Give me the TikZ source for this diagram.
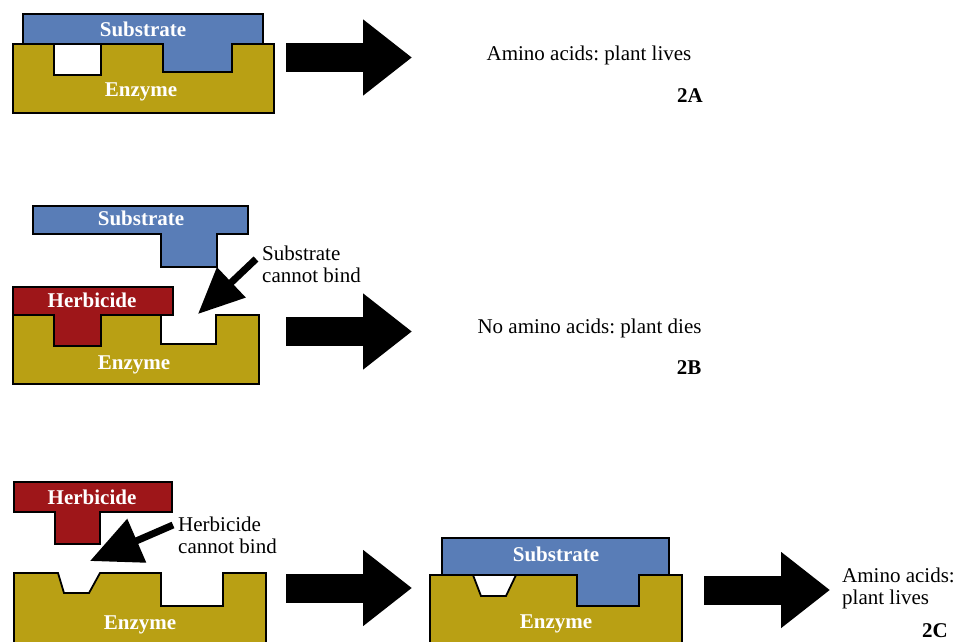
\documentclass[tikz,border=0pt]{standalone}
\usepackage{fontspec}
\setmainfont{Liberation Serif}
\usetikzlibrary{arrows.meta}
\definecolor{subblue}{RGB}{89,125,183}
\definecolor{enzgold}{RGB}{185,160,20}
\definecolor{herbred}{RGB}{158,22,25}
\frenchspacing
\begin{document}
\begin{tikzpicture}[x=1pt,y=-1pt,
 part/.style={draw=black,line width=1.8pt,line join=miter},
 enz/.style={part,fill=enzgold},
 sub/.style={part,fill=subblue},
 herb/.style={part,fill=herbred},
 lbl/.style={text=white,font=\fontsize{21}{22}\selectfont\bfseries,inner sep=0pt},
 txt/.style={font=\fontsize{21}{22}\selectfont,inner sep=0pt,align=left},
 tag/.style={font=\fontsize{21}{22}\selectfont\bfseries,inner sep=0pt},
 bigarrow/.style={line width=29pt,-{Triangle[length=49pt,width=73pt]}},
 smallarrowB/.style={line width=7pt,-{Triangle[length=46pt,width=40pt]}},
 smallarrowC/.style={line width=7pt,-{Triangle[length=51pt,width=46pt]}},
]
\useasboundingbox (0,0) rectangle (959,642);
\clip (0,0) rectangle (959,642);

% ---------- Panel 2A ----------
\draw[enz] (13,44) -- (54,44) -- (54,75) -- (101,75) -- (101,44) -- (163,44) -- (163,72)
  -- (232,72) -- (232,44) -- (274,44) -- (274,113) -- (13,113) -- cycle;
\draw[sub] (23,14) -- (263,14) -- (263,44) -- (232,44) -- (232,72) -- (163,72) -- (163,44)
  -- (23,44) -- cycle;
\node[lbl] (subA) at (143,29) {Substrate};
\node[lbl] (enzA) at (141,92) {Enzyme};
\coordinate (arAs) at (286,57.5);
\coordinate (arAe) at (412,57.5);
\draw[bigarrow] (arAs) -- (arAe);
\node[txt] (resA) at (589,55) {Amino acids: plant lives};
\node[tag] (tagA) at (690,96) {2A};

% ---------- Panel 2B ----------
\draw[sub] (33,206) -- (248,206) -- (248,234) -- (217,234) -- (217,267) -- (161,267)
  -- (161,234) -- (33,234) -- cycle;
\draw[enz] (13,315) -- (54,315) -- (54,346) -- (101,346) -- (101,315) -- (161,315)
  -- (161,344) -- (216,344) -- (216,315) -- (259,315) -- (259,384) -- (13,384) -- cycle;
\draw[herb] (13,287) -- (173,287) -- (173,315) -- (101,315) -- (101,346) -- (54,346)
  -- (54,315) -- (13,315) -- cycle;
\node[lbl] (subB) at (141,218) {Substrate};
\node[lbl] (herbB) at (92,300) {Herbicide};
\node[lbl] (enzB) at (134,365) {Enzyme};
\node[txt,anchor=west] (cantB) at (262,264) {Substrate\\cannot bind};
\coordinate (tailB) at (256,259);
\coordinate (tipB) at (198,314);
\draw[smallarrowB] (tailB) -- (tipB);
\coordinate (arBs) at (286,331.5);
\coordinate (arBe) at (412,331.5);
\draw[bigarrow] (arBs) -- (arBe);
\node[txt] (resB) at (589.5,328) {No amino acids: plant dies};
\node[tag] (tagB) at (689,368) {2B};

% ---------- Panel 2C (left) ----------
\draw[herb] (14,482) -- (172,482) -- (172,512) -- (100,512) -- (100,544) -- (55,544)
  -- (55,512) -- (14,512) -- cycle;
\node[lbl] (herbC) at (92,497) {Herbicide};
\draw[enz] (14,573) -- (58,573) -- (64,593) -- (89,593) -- (100,573) -- (161,573)
  -- (161,606) -- (223,606) -- (223,573) -- (266,573) -- (266,660) -- (14,660) -- cycle;
\node[lbl] (enzC) at (140,625) {Enzyme};
\node[txt,anchor=west] (cantC) at (178,535) {Herbicide\\cannot bind};
\coordinate (tailC) at (173,525);
\coordinate (tipC) at (90,561);
\draw[smallarrowC] (tailC) -- (tipC);
\coordinate (arCs) at (286,588);
\coordinate (arCe) at (412,588);
\draw[bigarrow] (arCs) -- (arCe);

% ---------- Panel 2C (right) ----------
\draw[enz] (430,575) -- (473,575) -- (481,596) -- (506,596) -- (516,575) -- (577,575)
  -- (577,606) -- (639,606) -- (639,575) -- (682,575) -- (682,660) -- (430,660) -- cycle;
\draw[sub] (442,538) -- (669,538) -- (669,575) -- (639,575) -- (639,606) -- (577,606)
  -- (577,575) -- (442,575) -- cycle;
\node[lbl] (subC) at (556,554) {Substrate};
\node[lbl] (enzC2) at (556,624) {Enzyme};
\coordinate (arDs) at (704,590);
\coordinate (arDe) at (830,590);
\draw[bigarrow] (arDs) -- (arDe);
\node[txt,anchor=west] (resC) at (842,588) {Amino acids:\\plant lives};
\node[tag] (tagC) at (935,631) {2C};
\end{tikzpicture}
\end{document}
